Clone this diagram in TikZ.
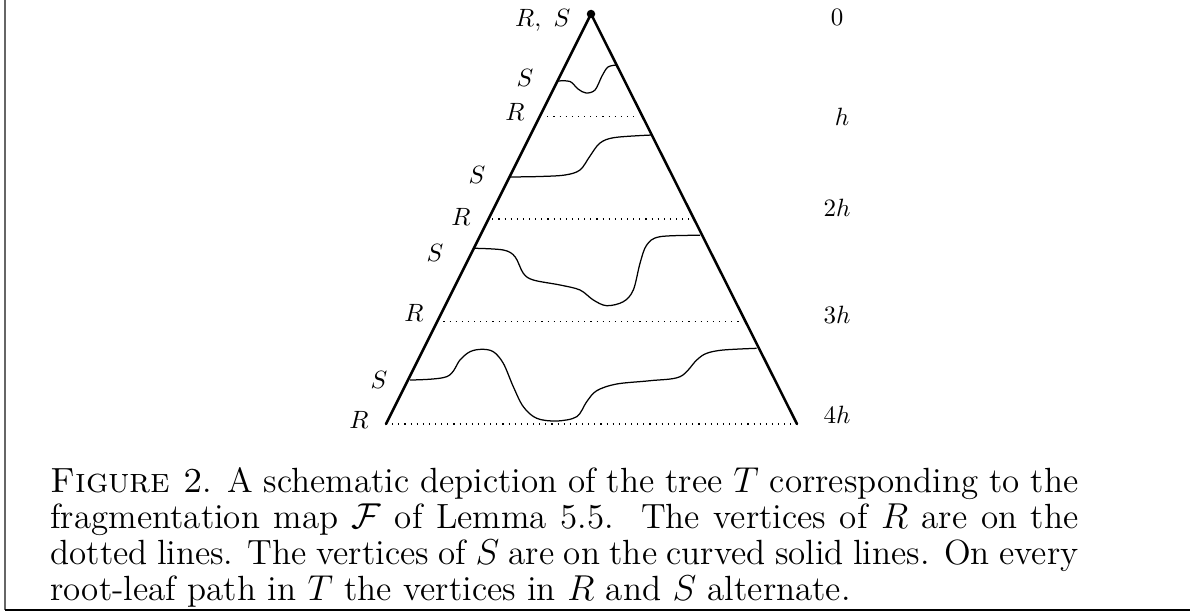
\documentclass[tikz,border=0pt]{standalone}
\usetikzlibrary{calc}
\begin{document}
\begin{tikzpicture}[x=0.4pt,y=-0.4pt,
  edge/.style={line width=1pt, line cap=round},
  sline/.style={line width=0.5pt},
  rline/.style={line width=0.45pt, dotted},
  lab/.style={font=\fontsize{10}{12}\selectfont, inner sep=0pt},
  capline/.style={anchor=base west, inner sep=0pt, font=\fontsize{14}{14.4}\selectfont}]
\useasboundingbox (0,0) rectangle (1190,612);
% frame
\draw[line width=0.8pt, black!60] (5,0) -- (5,610);
\draw[line width=0.8pt] (5,610) -- (1190,610);
% tree
\coordinate (A) at (591,14);
\coordinate (BL) at (386,424);
\coordinate (BR) at (797,424);
\draw[edge] (BL) -- (A) -- (BR);
\fill (A) circle[radius=1.7pt];
% dotted levels
\foreach \k/\s in {1/0.25,2/0.5,3/0.75,4/1}{
  \coordinate (L\k) at ($(A)!\s!(BL)$);
  \coordinate (R\k) at ($(A)!\s!(BR)$);
}
\draw[rline, shorten <=3pt, shorten >=1.5pt] (L1) -- (R1);
\draw[rline, shorten <=1.5pt] (L2) -- (R2);
\draw[rline] (L3) -- (R3);
\draw[rline] (L4) -- (R4);
% curved S lines
\draw[sline] plot[smooth, tension=0.55] coordinates {(558,81) (570,81.5) (578,89) (586,93) (595,90) (602,76) (608,67) (617,65)};
\draw[sline] plot[smooth, tension=0.55] coordinates {(510,177) (540,176.5) (565,175) (580,170) (590,156) (600,143) (615,137.5) (652,135)};
\draw[sline] plot[smooth, tension=0.55] coordinates {(475,248.3) (503.3,250) (515,256.7) (523.3,273.3) (533.3,280) (560,285) (580,290) (593.3,300) (606.7,305.7) (623.3,301.7) (633.3,290) (640,263.3) (646.7,245) (660,236.7) (700,235.3)};
\draw[sline] plot[smooth, tension=0.55] coordinates {(410,380) (446.7,376.7) (460,360) (470,351.7) (481.7,349.3) (493.3,351.7) (503.3,363.3) (513.3,386.7) (523.3,406.7) (536.7,418.3) (556.7,421) (576.7,416.7) (586.7,401.7) (596.7,390.7) (616.7,384) (650,380.7) (680,376.7) (696.7,360) (706.7,353.3) (723.3,350) (756.7,348.3)};
% left labels
\node[lab, anchor=east] (rs0) at (571,20) {$R,\ S$};
\node[lab] (s1) at (525,78) {$S$};
\node[lab] (r1) at (515,112) {$R$};
\node[lab] (s2) at (477,175) {$S$};
\node[lab] (r2) at (461,217) {$R$};
\node[lab] (s3) at (435,253) {$S$};
\node[lab] (r3) at (414,313) {$R$};
\node[lab] (s4) at (379,380) {$S$};
\node[lab] (r4) at (359,420) {$R$};
% right labels
\node[lab] (h0) at (837,17) {$0$};
\node[lab] (h1) at (842,117) {$h$};
\node[lab] (h2) at (837,208) {$2h$};
\node[lab] (h3) at (837,315) {$3h$};
\node[lab] (h4) at (837,415) {$4h$};
% caption
\node[capline] (c1) at (50,492) {\makebox[411.2pt][s]{\textsc{Figure 2}. A schematic depiction of the tree $T$ corresponding to the}};
\node[capline] (c2) at (50,528) {\makebox[411.2pt][s]{fragmentation map $\mathcal{F}$ of Lemma 5.5.\ \ The vertices of $R$ are on the}};
\node[capline] (c3) at (50,564) {\makebox[411.2pt][s]{dotted lines. The vertices of $S$ are on the curved solid lines. On every}};
\node[capline] (c4) at (50,600) {root-leaf path in $T$ the vertices in $R$ and $S$ alternate.};
\end{tikzpicture}
\end{document}
